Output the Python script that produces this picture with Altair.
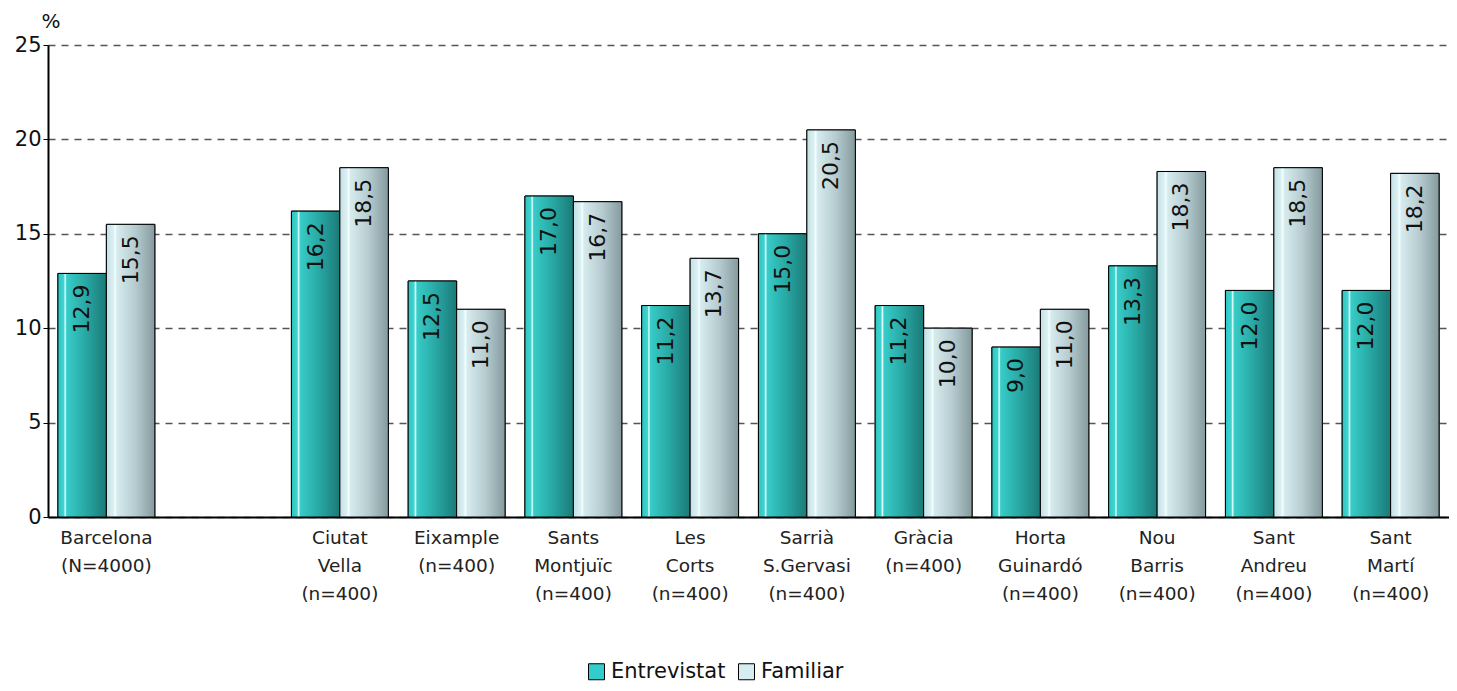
import altair as alt
import pandas as pd

categories = [
    "Barcelona|(N=4000)", "_",
    "Ciutat|Vella|(n=400)", "Eixample|(n=400)", "Sants|Montjuïc|(n=400)",
    "Les|Corts|(n=400)", "Sarrià|S.Gervasi|(n=400)", "Gràcia|(n=400)",
    "Horta|Guinardó|(n=400)", "Nou|Barris|(n=400)", "Sant|Andreu|(n=400)",
    "Sant|Martí|(n=400)",
]
entrevistat = [12.9, None, 16.2, 12.5, 17.0, 11.2, 15.0, 11.2, 9.0, 13.3, 12.0, 12.0]
familiar = [15.5, None, 18.5, 11.0, 16.7, 13.7, 20.5, 10.0, 11.0, 18.3, 18.5, 18.2]
series = ["Entrevistat", "Familiar"]
y_ticks = [0, 5, 10, 15, 20, 25]

rows = []
for c, e, f in zip(categories, entrevistat, familiar):
    if e is not None:
        rows.append({"cat": c, "series": series[0], "value": e})
    if f is not None:
        rows.append({"cat": c, "series": series[1], "value": f})
df = pd.DataFrame(rows)

FONT = "DejaVu Sans"

x_enc = alt.X(
    "cat:N",
    scale=alt.Scale(domain=categories, paddingInner=0.17, paddingOuter=0.085),
    axis=alt.Axis(
        title=None,
        labelAngle=0,
        labelExpr="datum.value == '_' ? '' : split(datum.value, '|')",
        labelFontSize=18.5,
        labelFont=FONT,
        labelColor="#222222",
        labelLineHeight=28,
        labelPadding=11,
        labelBaseline="top",
        ticks=False,
        domainColor="#000000",
        domainWidth=2,
        grid=False,
    ),
)
xoff_enc = alt.XOffset("series:N", scale=alt.Scale(domain=series, paddingInner=0, paddingOuter=0))
y_enc = alt.Y(
    "value:Q",
    scale=alt.Scale(domain=[0, 25], nice=False),
    axis=alt.Axis(
        values=y_ticks,
        title="%",
        titleAngle=0,
        titleAlign="left",
        titleBaseline="bottom",
        titleX=-7,
        titleY=-14,
        titleFontSize=20,
        titleFont=FONT,
        titleFontWeight="normal",
        titleColor="#111111",
        labelFontSize=21,
        labelFont=FONT,
        labelColor="#111111",
        labelPadding=2,
        tickColor="#000000",
        tickSize=5,
        domainColor="#000000",
        domainWidth=2,
        grid=True,
        gridColor="#555555",
        gridDash=[7, 6],
        gridWidth=1.3,
    ),
)

base = alt.Chart(df)

legend_layer = base.mark_bar(stroke="#000000", strokeWidth=1).encode(
    x=x_enc,
    xOffset=xoff_enc,
    y=y_enc,
    fill=alt.Fill(
        "series:N",
        scale=alt.Scale(domain=series, range=["#33cccc", "#d6eef2"]),
        legend=alt.Legend(
            title=None,
            orient="none",
            legendX=538,
            legendY=616,
            direction="horizontal",
            symbolType="square",
            symbolSize=256,
            symbolStrokeColor="#000000",
            symbolStrokeWidth=1,
            labelFontSize=21,
            labelFont=FONT,
            labelColor="#111111",
            labelOffset=4,
            columnPadding=10,
        ),
    ),
)

teal_grad = alt.LinearGradient(
    gradient="linear", x1=0, x2=1, y1=0, y2=0,
    stops=[
        alt.GradientStop(offset=0, color="#2fc4c0"),
        alt.GradientStop(offset=0.12, color="#3ed4d0"),
        alt.GradientStop(offset=0.15, color="#e8ffff"),
        alt.GradientStop(offset=0.18, color="#38ccc8"),
        alt.GradientStop(offset=0.55, color="#29aaa6"),
        alt.GradientStop(offset=1, color="#1b7a77"),
    ],
)
light_grad = alt.LinearGradient(
    gradient="linear", x1=0, x2=1, y1=0, y2=0,
    stops=[
        alt.GradientStop(offset=0, color="#c4e0e4"),
        alt.GradientStop(offset=0.15, color="#dcf1f4"),
        alt.GradientStop(offset=0.18, color="#f4ffff"),
        alt.GradientStop(offset=0.22, color="#d6ebee"),
        alt.GradientStop(offset=0.6, color="#b6cbcf"),
        alt.GradientStop(offset=1, color="#859a9d"),
    ],
)

teal_layer = base.transform_filter(alt.datum.series == series[0]).mark_bar(
    fill=teal_grad, stroke="#000000", strokeWidth=1
).encode(x=x_enc, xOffset=xoff_enc, y=y_enc)
light_layer = base.transform_filter(alt.datum.series == series[1]).mark_bar(
    fill=light_grad, stroke="#000000", strokeWidth=1
).encode(x=x_enc, xOffset=xoff_enc, y=y_enc)

labels = base.transform_calculate(
    lbl="replace(format(datum.value, '.1f'), '.', ',')"
).mark_text(
    angle=270, align="right", baseline="middle", dx=-11, fontSize=22, font=FONT, color="#111111"
).encode(x=x_enc, xOffset=xoff_enc, y=y_enc, text="lbl:N")

chart = alt.layer(legend_layer, teal_layer, light_layer, labels).properties(
    width=1401,
    height=472,
    autosize=alt.AutoSizeParams(type="none"),
    padding={"left": 40, "right": 0, "top": 37, "bottom": 166},
).configure_view(stroke=None)

chart.save("out.html", embed_options={"renderer": "svg", "actions": False})
